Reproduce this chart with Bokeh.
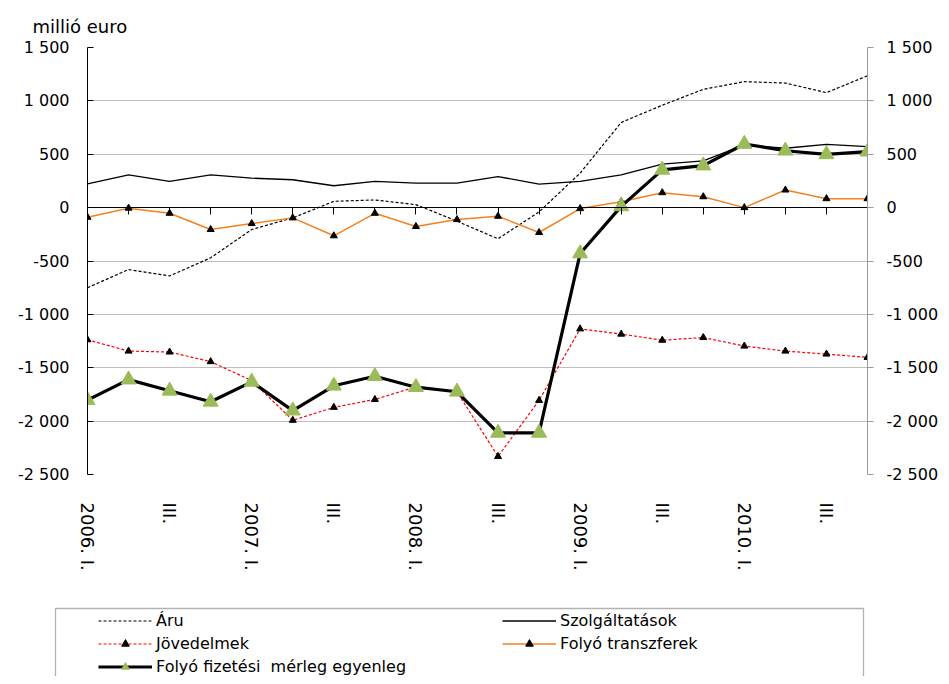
from bokeh.plotting import figure
from bokeh.layouts import column
from bokeh.models import (Range1d, FixedTicker, LinearAxis, Legend, LegendItem,
                          BoxAnnotation, ColumnDataSource)
from bokeh.embed import file_html
from bokeh.resources import INLINE

# ---- data ----
quarters = list(range(20))
x_tick_labels = ["2006. I.", "", "III.", "", "2007. I.", "", "III.", "",
                 "2008. I.", "", "III.", "", "2009. I.", "", "III.", "",
                 "2010. I.", "", "III.", ""]
y_ticks = [-2500, -2000, -1500, -1000, -500, 0, 500, 1000, 1500]
y_tick_labels = ["-2 500", "-2 000", "-1 500", "-1 000", "-500", "0", "500", "1 000", "1 500"]

aru = [-750, -580, -640, -470, -205, -96, 59, 72, 28, -127,
       -292, -40, 323, 798, 959, 1108, 1180, 1167, 1077, 1235]
szolgaltatasok = [223, 307, 245, 307, 276, 261, 205, 245, 230, 230,
                  291, 221, 245, 307, 407, 438, 587, 556, 593, 571]
jovedelmek = [-1238, -1344, -1353, -1443, -1620, -1992, -1871, -1797, -1679, -1725,
              -2331, -1806, -1136, -1185, -1242, -1217, -1297, -1344, -1372, -1403]
transzferek = [-90, -5, -53, -205, -149, -96, -264, -53, -177, -112,
               -81, -233, -9, 56, 140, 102, 0, 165, 84, 84]
egyenleg = [-1803, -1611, -1716, -1819, -1632, -1902, -1669, -1580, -1682, -1725,
            -2110, -2110, -430, 12, 354, 394, 596, 533, 499, 524]

series_names = ["Áru", "Szolgáltatások", "Jövedelmek", "Folyó transzferek",
                "Folyó fizetési  mérleg egyenleg"]
unit_label = "millió euro"

FONT = "DejaVu Sans"
GREEN = "#9BBB59"
ORANGE = "#F5801F"
RED = "#FF0000"

STYLES = {
    "aru": dict(line_color="black", line_width=1.2, line_dash="3 2"),
    "szolg": dict(line_color="black", line_width=1.3),
    "tr": dict(line_color=ORANGE, line_width=1.5),
    "jov": dict(line_color=RED, line_width=1.2, line_dash="3 2"),
    "eg": dict(line_color="black", line_width=3.2),
}
SMALL_M = dict(marker="triangle", size=7, fill_color="black", line_color="black")
BIG_M = dict(marker="triangle", size=15, fill_color=GREEN, line_color=GREEN)

src = ColumnDataSource(dict(x=quarters, aru=aru, szolg=szolgaltatasok, jov=jovedelmek,
                            tr=transzferek, eg=egyenleg))

# ---------------- main chart ----------------
p = figure(width=941, height=600, output_backend="svg", toolbar_location=None,
           x_range=Range1d(0, 19), y_range=Range1d(-2500, 1500),
           x_axis_location=None, y_axis_location=None, frame_align=False,
           min_border_left=87, min_border_right=70, min_border_top=47, min_border_bottom=126)
p.outline_line_color = None
p.xgrid.visible = False
p.ygrid.ticker = FixedTicker(ticks=y_ticks)
p.ygrid.grid_line_color = "#BEBEBE"
p.ygrid.grid_line_width = 1

p.title.text = unit_label
p.title.align = "left"
p.title.offset = -55
p.title.standoff = 21
p.title.text_font = FONT
p.title.text_font_size = "18px"
p.title.text_font_style = "normal"
p.title.text_color = "black"

ylabels = {t: l for t, l in zip(y_ticks, y_tick_labels)}

yl = LinearAxis(ticker=FixedTicker(ticks=y_ticks), major_label_overrides=ylabels)
yl.axis_line_color = "black"
yl.major_tick_line_color = "black"
yl.major_tick_in = 6
yl.major_tick_out = 0
yl.minor_tick_line_color = None
yl.major_label_standoff = 18
yl.major_label_text_font = FONT
yl.major_label_text_font_size = "16px"
yl.major_label_text_color = "black"
p.add_layout(yl, "left")

yr = LinearAxis(ticker=FixedTicker(ticks=y_ticks), major_label_overrides=ylabels)
yr.axis_line_color = "#9A9A9A"
yr.major_tick_line_color = "#9A9A9A"
yr.major_tick_in = 0
yr.major_tick_out = 6
yr.minor_tick_line_color = None
yr.major_label_standoff = 13
yr.major_label_text_font = FONT
yr.major_label_text_font_size = "16px"
yr.major_label_text_color = "black"
p.add_layout(yr, "right")

xb = LinearAxis(ticker=FixedTicker(ticks=quarters),
                major_label_overrides={q: l for q, l in zip(quarters, x_tick_labels)})
xb.axis_line_color = None
xb.major_tick_line_color = None
xb.minor_tick_line_color = None
xb.major_label_orientation = "vertical"
xb.major_label_standoff = 22
xb.major_label_text_font = FONT
xb.major_label_text_font_size = "18px"
xb.major_label_text_color = "black"
p.add_layout(xb, "below")

x0 = LinearAxis(ticker=FixedTicker(ticks=quarters), fixed_location=0)
x0.axis_line_color = "black"
x0.major_tick_line_color = "black"
x0.major_tick_in = 0
x0.major_tick_out = 7
x0.minor_tick_line_color = None
x0.major_label_text_font_size = "0px"
x0.major_label_text_color = None
x0.major_label_standoff = 0
p.add_layout(x0, "below")

p.line("x", "aru", source=src, **STYLES["aru"])
p.line("x", "szolg", source=src, **STYLES["szolg"])
p.line("x", "tr", source=src, **STYLES["tr"])
p.scatter("x", "tr", source=src, **SMALL_M)
p.line("x", "jov", source=src, **STYLES["jov"])
p.scatter("x", "jov", source=src, **SMALL_M)
p.line("x", "eg", source=src, **STYLES["eg"])
p.scatter("x", "eg", source=src, **BIG_M)

# ---------------- legend strip ----------------
lf = figure(width=941, height=76, output_backend="svg", toolbar_location=None,
            x_range=Range1d(0, 1), y_range=Range1d(0, 1), frame_align=False,
            x_axis_location=None, y_axis_location=None, min_border=0)
lf.outline_line_color = None
lf.xgrid.visible = False
lf.ygrid.visible = False

# legend proxies (a single point outside the strip's visible range)
proxy = ColumnDataSource(dict(x=[-5], y=[-5]))
l_aru = lf.line("x", "y", source=proxy, **STYLES["aru"])
l_sz = lf.line("x", "y", source=proxy, **STYLES["szolg"])
l_jov = lf.line("x", "y", source=proxy, **STYLES["jov"])
l_jov_m = lf.scatter("x", "y", source=proxy, **SMALL_M)
l_tr = lf.line("x", "y", source=proxy, **STYLES["tr"])
l_tr_m = lf.scatter("x", "y", source=proxy, **SMALL_M)
l_eg = lf.line("x", "y", source=proxy, **STYLES["eg"])
l_eg_m = lf.scatter("x", "y", source=proxy, **BIG_M)

lf.add_layout(BoxAnnotation(left=55, right=863, top=68, bottom=-10,
                            left_units="screen", right_units="screen",
                            top_units="screen", bottom_units="screen",
                            fill_color=None, line_color="black", line_width=1.3))

# column-major order: first column Áru, Jövedelmek, egyenleg; second column the others
legend = Legend(items=[
    LegendItem(label=series_names[0], renderers=[l_aru]),
    LegendItem(label=series_names[2], renderers=[l_jov, l_jov_m]),
    LegendItem(label=series_names[4], renderers=[l_eg, l_eg_m]),
    LegendItem(label=series_names[1], renderers=[l_sz]),
    LegendItem(label=series_names[3], renderers=[l_tr, l_tr_m]),
], ncols=2, location=(98, 0))
legend.border_line_color = None
legend.background_fill_color = None
legend.padding = 2
legend.spacing = 4
legend.glyph_width = 54
legend.glyph_height = 19
legend.label_height = 19
legend.label_width = 342
legend.label_standoff = 4
legend.margin = 0
legend.label_text_font = FONT
legend.label_text_font_size = "16px"
legend.label_text_color = "black"
lf.add_layout(legend, "center")

layout = column(p, lf, spacing=0)
open("out.html", "w").write(file_html(layout, INLINE))
